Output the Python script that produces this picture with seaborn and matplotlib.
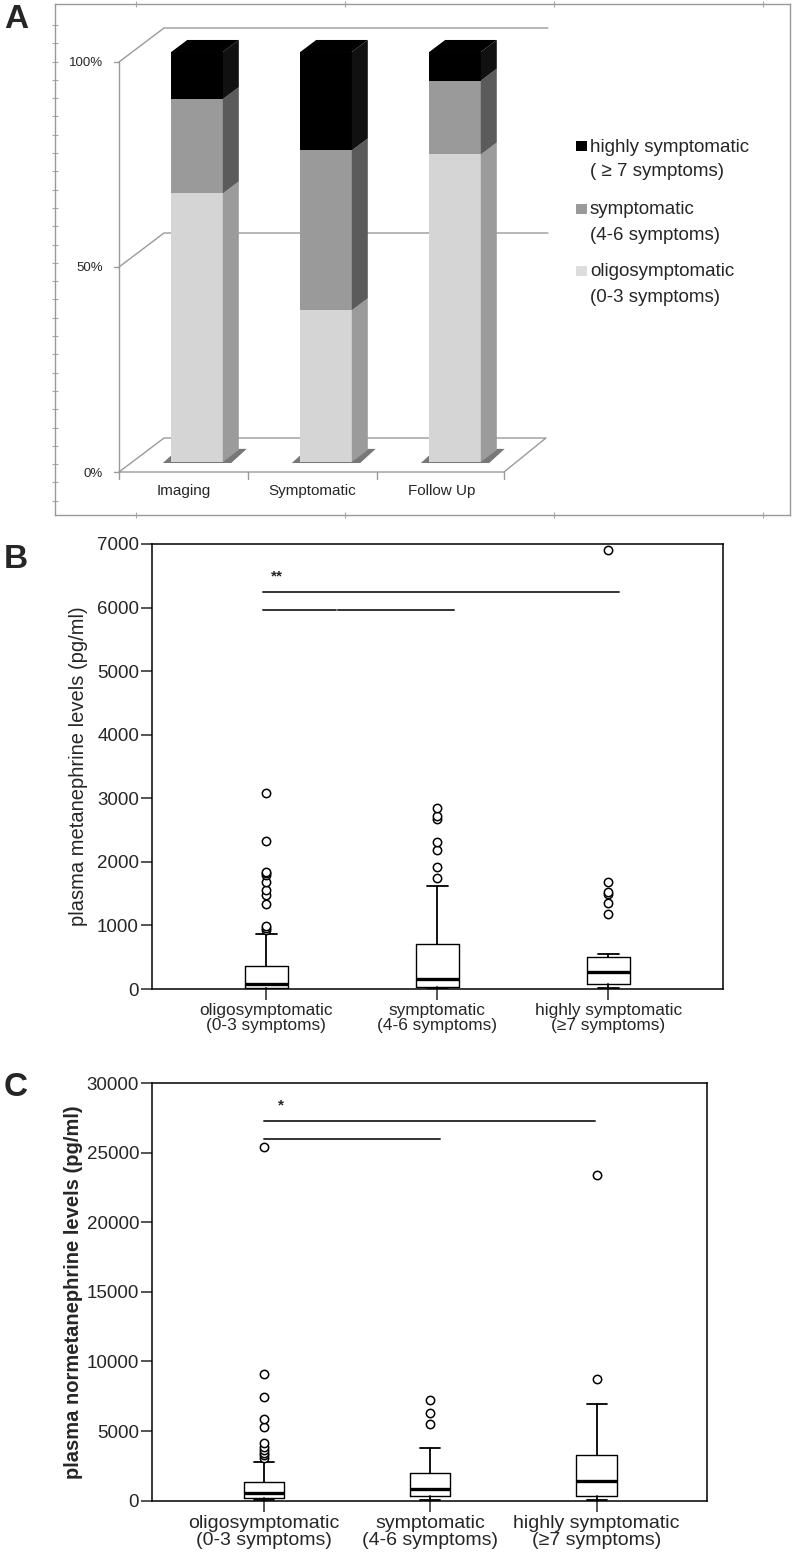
import numpy as np
import pandas as pd
import matplotlib
matplotlib.use("Agg")
import matplotlib.pyplot as plt
import seaborn as sns
from matplotlib.patches import Polygon, Rectangle

# ---- panel A: share of patients per symptom class (%)
periods = ["Imaging", "Symptomatic", "Follow Up"]
oligo_pct = [65.5, 37.0, 75.0]
sympt_pct = [23.0, 39.0, 18.0]
high_pct = [11.5, 24.0, 7.0]
legend_labels = ["highly symptomatic\n( ≥ 7 symptoms)",
                 "symptomatic\n(4-6 symptoms)",
                 "oligosymptomatic\n(0-3 symptoms)"]

# ---- panels B/C: box statistics (pg/ml)
groups = ["oligosymptomatic\n(0-3 symptoms)", "symptomatic\n(4-6 symptoms)",
          "highly symptomatic\n(≥7 symptoms)"]

met_med = [85, 165, 265]
met_q1 = [20, 25, 80]
met_q3 = [360, 710, 505]
met_lo = [5, 5, 10]
met_hi = [865, 1620, 550]
met_out = [[930, 960, 996, 1330, 1480, 1560, 1690, 1800, 1825, 1845, 2330, 3090],
           [1740, 1920, 2190, 2320, 2680, 2720, 2840],
           [1180, 1355, 1500, 1520, 1690, 6900]]

nor_med = [575, 840, 1415]
nor_q1 = [215, 360, 360]
nor_q3 = [1365, 1970, 3280]
nor_lo = [20, 30, 30]
nor_hi = [2760, 3800, 6920]
nor_out = [[3100, 3280, 3450, 3640, 3880, 4120, 5320, 5850, 7430, 9080, 25400],
           [5510, 6320, 7230],
           [8770, 23400]]

sns.set_style("ticks")
plt.rcParams["font.family"] = ["Liberation Sans", "DejaVu Sans"]

W, H = 794, 1560
fig = plt.figure(figsize=(W / 100, H / 100), dpi=100)


def box(l, t, r, b):
    return [l / W, 1 - b / H, (r - l) / W, (b - t) / H]


# ================= panel A =================
frame = fig.add_axes(box(55, 4, 790, 515))
frame.set_xlim(55, 790)
frame.set_ylim(515, 4)
for s in frame.spines.values():
    s.set_color("#999999")
    s.set_linewidth(1)
frame.set_xticks([136, 345, 554, 763])
frame.set_yticks(np.arange(25, 505, 18.3))
frame.tick_params(axis="x", top=True, bottom=True, direction="inout", length=4,
                  color="#aaaaaa", labelbottom=False)
frame.tick_params(axis="y", left=True, direction="inout", length=4,
                  color="#aaaaaa", labelleft=False)
frame.set_facecolor("none")

axA = fig.add_axes(box(107, 20, 560, 480))
axA.set_facecolor("none")

c_light, c_mid, c_dark = "#d5d5d5", "#9a9a9a", "#000000"
s_light, s_mid, s_dark = "#9b9b9b", "#5b5b5b", "#111111"

dfA = pd.DataFrame({"period": periods, "oligo": oligo_pct,
                    "sympt": sympt_pct, "high": high_pct})
dfA["mid"] = dfA["oligo"] + dfA["sympt"]
dfA["top"] = dfA["mid"] + dfA["high"]

DX, DY = 0.124, 2.93          # bar depth
FX, FY = -0.105, -2.44        # front plane offset
XF, XW = -0.605, -0.256       # front axis line / back wall left edge
WY = 5.85                     # back wall offset
grey = "#9a9a9a"

# back wall + floor
for p in (50, 100):
    axA.plot([XF, XW, 2.72], [p + FY, p + WY, p + WY], color=grey, lw=1, zorder=0.5)
axA.plot([XF, XF], [FY, 100 + FY], color=grey, lw=1, zorder=0.5)
axA.plot([XF, 2.38, 2.705, XW, XF], [FY, FY, WY, WY, FY],
         color=grey, lw=1, zorder=0.5)
for xt in [XF, 0.395, 1.399, 2.38]:
    axA.plot([xt, xt], [FY, FY - 1.6], color=grey, lw=1, zorder=0.5)
for p in (0, 50, 100):
    axA.plot([XF - 0.035, XF], [p + FY, p + FY], color=grey, lw=1, zorder=0.5)

for col_name, col in [("top", c_dark), ("mid", c_mid), ("oligo", c_light)]:
    sns.barplot(data=dfA, x="period", y=col_name, color=col, width=0.4,
                saturation=1, errorbar=None, ax=axA, zorder=2, linewidth=0)

for i, bar in enumerate(axA.patches[:3]):
    x0 = bar.get_x()
    x1 = x0 + bar.get_width()
    # floor shadow
    axA.add_patch(Polygon([(x0 - 0.065, -0.25), (x1 + 0.065, -0.25),
                           (x1 + 0.185, 3.2), (x0 + 0.055, 3.2)],
                          closed=True, facecolor="#777777", edgecolor="none", zorder=1.5))
    segs = [(0, oligo_pct[i], s_light),
            (oligo_pct[i], dfA["mid"][i], s_mid),
            (dfA["mid"][i], dfA["top"][i], s_dark)]
    for lo, hi, col in segs:
        axA.add_patch(Polygon([(x1, lo), (x1 + DX, lo + DY), (x1 + DX, hi + DY), (x1, hi)],
                              closed=True, facecolor=col, edgecolor="none", zorder=2.1))
    t = dfA["top"][i]
    axA.add_patch(Polygon([(x0, t), (x1, t), (x1 + DX, t + DY), (x0 + DX, t + DY)],
                          closed=True, facecolor=c_dark, edgecolor="none", zorder=2.1))

axA.set_xlim(-0.698, 2.814)
axA.set_ylim(-4.39, 107.8)
axA.set_xticks([i + FX for i in range(3)], periods, fontsize=11)
axA.set_yticks([p + FY for p in (0, 50, 100)], ["0%", "50%", "100%"], fontsize=9.5)
axA.tick_params(length=0, pad=3)
axA.set_xlabel("")
axA.set_ylabel("")
for s in axA.spines.values():
    s.set_visible(False)

# legend drawn next to the bars
for yc, lab, col in zip([146, 209, 271], legend_labels, [c_dark, c_mid, "#dddddd"]):
    fig.patches.append(Rectangle((576 / W, 1 - (yc + 5) / H), 11 / W, 10 / H,
                                 transform=fig.transFigure, facecolor=col, edgecolor="none"))
    l1, l2 = lab.split("\n")
    fig.text(590 / W, 1 - (yc + 1) / H, l1, fontsize=13.5, va="center")
    fig.text(590 / W, 1 - (yc + 26) / H, l2, fontsize=13.5, va="center")


def boxpanel(ax, med, q1, q3, lo, hi, out, width, xfs):
    stats = [dict(med=med[i], q1=q1[i], q3=q3[i], whislo=lo[i], whishi=hi[i],
                  fliers=out[i]) for i in range(3)]
    ax.bxp(stats, positions=[0, 1, 2], widths=width, capwidths=0.12,
           boxprops=dict(color="black", lw=1.0),
           medianprops=dict(color="black", lw=2.4),
           whiskerprops=dict(color="black", lw=1.3),
           capprops=dict(color="black", lw=1.3),
           flierprops=dict(marker="o", markerfacecolor="white", markeredgecolor="black",
                           markersize=6, markeredgewidth=1.1))
    ax.set_xticks([0, 1, 2], groups, fontsize=xfs, linespacing=1.05)
    ax.tick_params(axis="x", direction="out", length=8, width=1.1, pad=2)
    ax.tick_params(axis="y", direction="out", length=8, width=1.1, pad=1, labelsize=13.5)
    for s in ax.spines.values():
        s.set_visible(True)
        s.set_color("black")
        s.set_linewidth(1.1)


# ================= panel B =================
axB = fig.add_axes(box(151.5, 544, 723, 989))
boxpanel(axB, met_med, met_q1, met_q3, met_lo, met_hi, met_out, 0.25, 12.4)
axB.set_xlim(-0.671, 2.671)
axB.set_ylim(0, 7000)
axB.set_yticks(range(0, 7001, 1000))
axB.set_ylabel("plasma metanephrine levels (pg/ml)", fontsize=14.5)
axB.yaxis.set_label_coords(-0.111, 0.5)
axB.plot([-0.02, 0.41], [5960, 5960], color="#333333", lw=1.4)
axB.plot([0.42, 1.10], [5960, 5960], color="#333333", lw=1.4)
axB.plot([-0.02, 2.06], [6240, 6240], color="#333333", lw=1.4)
axB.text(0.063, 6497, "**", ha="center", va="center", fontsize=11, fontweight="bold")

# ================= panel C =================
axC = fig.add_axes(box(151.5, 1083, 707.3, 1500.7))
boxpanel(axC, nor_med, nor_q1, nor_q3, nor_lo, nor_hi, nor_out, 0.242, 14)
axC.set_xlim(-0.677, 2.666)
axC.set_ylim(0, 30000)
axC.set_yticks(range(0, 30001, 5000))
axC.set_ylabel("plasma normetanephrine levels (pg/ml)", fontsize=14.5, fontweight="bold")
axC.yaxis.set_label_coords(-0.123, 0.5)
axC.plot([0, 1.99], [27300, 27300], color="#333333", lw=1.4)
axC.plot([0, 1.06], [26000, 26000], color="#333333", lw=1.4)
axC.text(0.10, 28420, "*", ha="center", va="center", fontsize=11, fontweight="bold")

for lab, y in [("A", 4), ("B", 544), ("C", 1072)]:
    fig.text(4 / W, 1 - y / H, lab, fontsize=24, fontweight="bold", va="top")

fig.savefig("out.png", dpi=100)
